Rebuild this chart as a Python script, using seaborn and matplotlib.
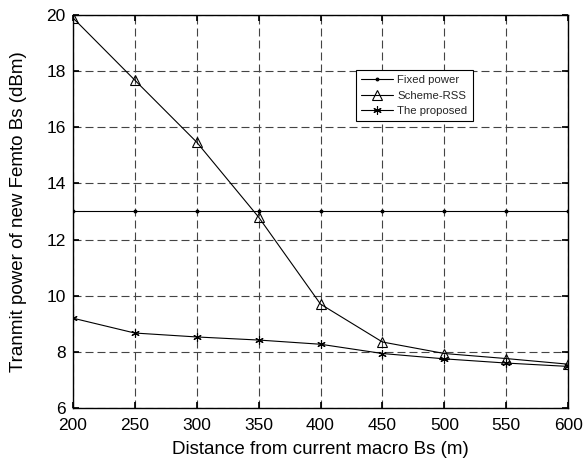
import matplotlib
matplotlib.use("Agg")
import matplotlib.pyplot as plt
import seaborn as sns
import pandas as pd

distance = [200, 250, 300, 350, 400, 450, 500, 550, 600]
fixed_power = [13, 13, 13, 13, 13, 13, 13, 13, 13]
scheme_rss = [19.9, 17.68, 15.47, 12.8, 9.7, 8.35, 7.94, 7.76, 7.56]
proposed = [9.2, 8.67, 8.53, 8.42, 8.27, 7.94, 7.75, 7.6, 7.48]
series_names = ["Fixed power", "Scheme-RSS", "The proposed"]

sns.set_theme(style="white")
plt.rcParams['font.family'] = ['Liberation Sans', 'DejaVu Sans']

df = pd.DataFrame({
    "x": distance * 3,
    "y": fixed_power + scheme_rss + proposed,
    "series": [series_names[0]] * 9 + [series_names[1]] * 9 + [series_names[2]] * 9,
})

fig = plt.figure(figsize=(5.87, 4.66), dpi=100)
ax = fig.add_axes([0.124, 0.1245, 0.844, 0.8435])

markers = {"Fixed power": ".", "Scheme-RSS": "^", "The proposed": (6, 2, 0)}
sizes = {"Fixed power": 4, "Scheme-RSS": 7, "The proposed": 6}
for name in series_names:
    sub = df[df["series"] == name]
    sns.lineplot(data=sub, x="x", y="y", ax=ax, color="black", lw=0.8,
                 marker=markers[name], markersize=sizes[name],
                 markerfacecolor="none" if name == "Scheme-RSS" else "black",
                 markeredgecolor="black", markeredgewidth=0.8, label=name)

ax.set_xlim(200, 600)
ax.set_ylim(6, 20)
ax.set_xticks(range(200, 601, 50))
ax.set_yticks(range(6, 21, 2))
ax.grid(True, linestyle=(0, (7.2, 3.6)), color="#444444", linewidth=0.8)
ax.tick_params(direction="in", labelsize=12.5, length=4, color="black",
               bottom=True, left=True, top=True, right=True)
ax.tick_params(axis="x", pad=7)
ax.tick_params(axis="y", pad=5)
for s in ax.spines.values():
    s.set_color("black")
    s.set_linewidth(1.0)
ax.set_xlabel("Distance from current macro Bs (m)", fontsize=13.5, color="black", labelpad=6)
ax.set_ylabel("Tranmit power of new Femto Bs (dBm)", fontsize=13.5, color="black", labelpad=14)
ax.tick_params(labelcolor="black")

leg = ax.legend(loc="upper left", bbox_to_anchor=(0.56, 0.875), fontsize=8.2,
                frameon=True, fancybox=False, edgecolor="black",
                handlelength=2.8, handletextpad=0.4, borderpad=0.45, labelspacing=0.5)
leg.get_frame().set_linewidth(0.8)
leg.get_frame().set_alpha(1)

fig.savefig("out.png", dpi=100)
